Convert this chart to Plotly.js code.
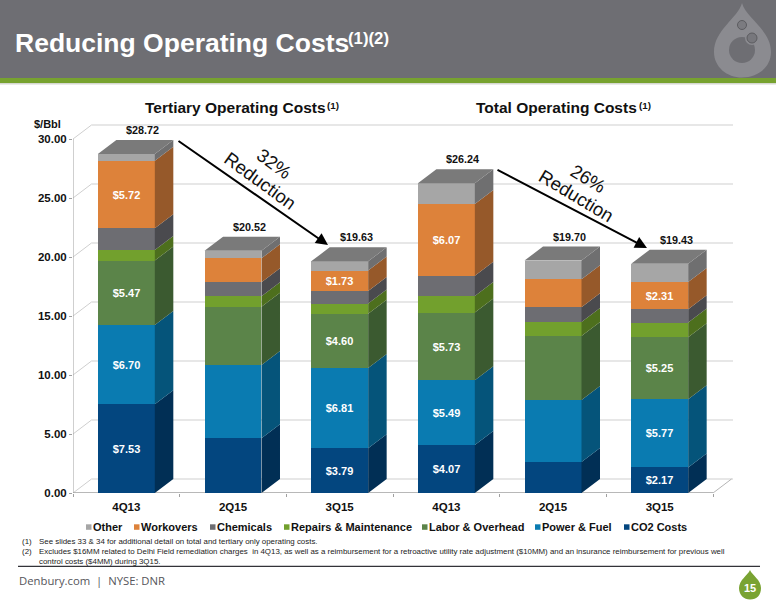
<!DOCTYPE html>
<html>
<head>
<meta charset="utf-8">
<script src="https://cdn.plot.ly/plotly-3.0.1.min.js"></script>
<style>html,body{margin:0;padding:0;background:#fff}#c{width:776px;height:600px}</style>
</head>
<body>
<div id="c"></div>
<script>
// ---------- data ----------
const categories = ["4Q13","2Q15","3Q15","4Q13","2Q15","3Q15"];
const co2Costs   = [7.53,4.63,3.79,4.07,2.63,2.17];
const powerFuel  = [6.70,6.22,6.81,5.49,5.25,5.77];
const laborOver  = [5.47,4.94,4.60,5.73,5.42,5.25];
const repairs    = [0.90,0.88,0.85,1.40,1.19,1.25];
const chemicals  = [1.83,1.19,1.07,1.73,1.25,1.14];
const workovers  = [5.72,2.03,1.73,6.07,2.37,2.31];
const other      = [0.57,0.63,0.78,1.75,1.59,1.54];
const totals     = [28.72,20.52,19.63,26.24,19.70,19.43];
const co2Labels    = ["$7.53",null,"$3.79","$4.07",null,"$2.17"];
const powerLabels  = ["$6.70",null,"$6.81","$5.49",null,"$5.77"];
const laborLabels  = ["$5.47",null,"$4.60","$5.73",null,"$5.25"];
const workLabels   = ["$5.72",null,"$1.73","$6.07",null,"$2.31"];
const yTicks = [0,5,10,15,20,25,30];
const seriesNames = ["CO2 Costs","Power & Fuel","Labor & Overhead","Repairs & Maintenance","Chemicals","Workovers","Other"];

// ---------- layout constants ----------
const FONT = "Liberation Sans, Arial, sans-serif";
const L=73, R=733, T=124, B=493;
const xUnit=106.67, yUnit=11.8;
const xMin=-0.5, xMax=xMin+(R-L)/xUnit, yMax=(B-T)/yUnit;
const dx=18.5/xUnit, dy=14/yUnit, barW=0.534;
const px=x=>(x-L)/(R-L), py=y=>(B-y)/(B-T);
const xs=categories.map((_,i)=>i);

const frontColors=["#03467f","#0a7bb1","#5b8449","#72a02d","#6d6d72","#dd823a","#a6a6a6"];
const sideColors =["#012f55","#05547a","#3b5a30","#4d6f1d","#4a4a4e","#96592a","#6f6f70"];
const topColor="#7a7a7a";
const seriesVals=[co2Costs,powerFuel,laborOver,repairs,chemicals,workovers,other];
const seriesText=[co2Labels,powerLabels,laborLabels,null,null,workLabels,null];

const traces=[];
seriesVals.forEach((v,s)=>{
  const tr={type:"bar",x:xs,y:v,width:barW,name:seriesNames[s],
    marker:{color:frontColors[s],line:{width:0}},
    hovertemplate:"%{y:$.2f}<extra>"+seriesNames[s]+"</extra>"};
  if(seriesText[s]){
    Object.assign(tr,{text:seriesText[s],textposition:"inside",insidetextanchor:"middle",
      textangle:0,constraintext:"none",
      insidetextfont:{family:FONT,size:11,color:"#ffffff",weight:"bold"}});
  }
  traces.push(tr);
});
// side faces of the 3D columns, stacked from the same values
const base=xs.map(()=>0);
seriesVals.forEach((v,s)=>{
  const sx=[],sy=[];
  v.forEach((val,i)=>{
    const xr=i+barW/2, y0=base[i], y1=base[i]+val;
    sx.push(xr,xr+dx,xr+dx,xr,xr,null);
    sy.push(y0,y0+dy,y1+dy,y1,y0,null);
    base[i]=y1;
  });
  traces.push({type:"scatter",mode:"lines",x:sx,y:sy,fill:"toself",fillcolor:sideColors[s],
    line:{width:0,color:sideColors[s]},hoverinfo:"skip",showlegend:false});
});
// top faces
const tx=[],ty=[];
base.forEach((t,i)=>{
  const xl=i-barW/2,xr=i+barW/2;
  tx.push(xl,xl+dx,xr+dx,xr,xl,null);
  ty.push(t,t+dy,t+dy,t,t,null);
});
traces.push({type:"scatter",mode:"lines",x:tx,y:ty,fill:"toself",fillcolor:topColor,
  line:{width:0,color:topColor},hoverinfo:"skip",showlegend:false});

// ---------- shapes ----------
const shapes=[];
const rectPx=(x0,y0,x1,y1,color)=>({type:"rect",xref:"paper",yref:"paper",layer:"below",
  x0:px(x0),x1:px(x1),y0:py(y0),y1:py(y1),fillcolor:color,line:{width:0}});
const circPx=(cx,cy,r,color,lc,layer)=>({type:"circle",xref:"paper",yref:"paper",layer:layer||"above",
  x0:px(cx-r),x1:px(cx+r),y0:py(cy+r),y1:py(cy-r),fillcolor:color,line:{width:lc?1:0,color:lc||color}});
const lineD=(x0,y0,x1,y1,c,w)=>({type:"line",xref:"x",yref:"y",layer:"below",x0,y0,x1,y1,line:{color:c,width:w||1}});
const pathPx=(pts,color)=>({type:"path",xref:"paper",yref:"paper",layer:"above",fillcolor:color,line:{width:0},path:pts});
const P=(x,y)=>px(x)+" "+py(y);

shapes.push(rectPx(0,0,776,78,"#6e6e73"));
shapes.push(rectPx(0,78,776,83,"#77a22f"));
shapes.push(rectPx(0,83,776,84.5,"#d5d8d0"));
shapes.push(rectPx(18,565.8,760,567,"#333338"));
// wall grid, side diagonals, floor, axis lines
yTicks.forEach(t=>{
  shapes.push(lineD(xMin+dx,t+dy,xMax,t+dy,"#cfcfcf",1.2));
  shapes.push(lineD(xMin,t,xMin+dx,t+dy,"#cfcfcf",1));
});
shapes.push(lineD(5.5,0,5.5+dx,dy,"#b5b5b5",1));
shapes.push(lineD(xMin,0,xMin,30,"#a0a0a0",1));
shapes.push(lineD(xMin,0,5.5,0,"#a0a0a0",1.4));

// logo
shapes.push(pathPx(`M${P(742,3)} C${P(738,18)} ${P(714,30)} ${P(714,52)} C${P(714,67)} ${P(727,77.5)} ${P(742,77.5)} C${P(758,77.5)} ${P(771,67)} ${P(771,52)} C${P(771,30)} ${P(746,18)} ${P(742,3)} Z`,"#8b8b90"));
shapes.push(circPx(742,50,13,"#6e6e73"));
shapes.push(circPx(742,25,4.5,"#7b7b80","#5c5c60"));
shapes.push(circPx(752,38,7,"#8b8b90"));
shapes.push(circPx(752,38,5,"#77777c","#5c5c60"));
// page drop
shapes.push(pathPx(`M${P(750,570)} C${P(748,575)} ${P(739,580)} ${P(739,588)} C${P(739,595)} ${P(744,599.5)} ${P(750,599.5)} C${P(757,599.5)} ${P(761,595)} ${P(761,588)} C${P(761,580)} ${P(752,575)} ${P(750,570)} Z`,"#79a332"));

// ---------- legend (reads left to right, top of stack first) ----------
const legendOrder=[6,5,4,3,2,1,0];
const legendX=[86,134,210,284,422,535,624];
const ann=[];
legendOrder.forEach((s,i)=>{
  const x=legendX[i];
  shapes.push({type:"rect",xref:"paper",yref:"paper",layer:"above",x0:px(x),x1:px(x+5.5),y0:py(529.8),y1:py(524.3),fillcolor:frontColors[s],line:{width:0}});
  ann.push({xref:"paper",yref:"paper",x:px(x+5),y:py(527),xanchor:"left",yanchor:"middle",showarrow:false,
    text:"<b>"+seriesNames[s]+"</b>",font:{family:FONT,size:11,color:"#111"}});
});

const textPx=(x,y,text,size,color,anchor,extra)=>Object.assign({xref:"paper",yref:"paper",
  x:px(anchor?x:x-2.5),y:py(y),
  xanchor:anchor||"left",yanchor:"middle",showarrow:false,text,align:"left",borderpad:0,
  font:{family:FONT,size,color:color||"#111"}},extra||{});

// totals above each column
totals.forEach((t,i)=>{
  ann.push({xref:"x",yref:"y",x:i+0.155,y:t+dy,yshift:10,xanchor:"center",yanchor:"middle",showarrow:false,
    text:"<b>$"+t.toFixed(2)+"</b>",font:{family:FONT,size:10.8,color:"#111"}});
});
ann.push(textPx(16,43,"<b>Reducing Operating Costs</b>",26.5,"#ffffff"));
ann.push(textPx(349,38,"<b>(1)(2)</b>",16.8,"#ffffff"));
ann.push(textPx(146,107,"<b>Tertiary Operating Costs</b>",15.5,"#111"));
ann.push(textPx(328,105,"<b>(1)</b>",9.8,"#111"));
ann.push(textPx(477,107,"<b>Total Operating Costs</b>",15.5,"#111"));
ann.push(textPx(640,105,"<b>(1)</b>",9.8,"#111"));
ann.push(textPx(35,124,"<b>$/Bbl</b>",11,"#111"));
// arrows
[[177,140,328,245],[496,169,647,248]].forEach(a=>{
  ann.push({xref:"paper",yref:"paper",axref:"pixel",ayref:"pixel",x:px(a[2]),y:py(a[3]),ax:a[0]-a[2],ay:a[1]-a[3],
    showarrow:true,arrowhead:2,arrowsize:1.2,arrowwidth:2,arrowcolor:"#000",text:""});
});
const rot=(x,y,t,angle)=>textPx(x,y,t,18.5,"#111","center",{textangle:angle});
ann.push(rot(274,163,"32%",36));
ann.push(rot(260,180,"Reduction",36));
ann.push(rot(588,178,"26%",31));
ann.push(rot(576,195,"Reduction",31));
// footnotes
ann.push(textPx(23,541.7,"(1)",7.9,"#222"));
ann.push(textPx(40,541.7,"See slides 33 &amp; 34 for additional detail on total and tertiary only operating costs.",7.9,"#222"));
ann.push(textPx(23,551.7,"(2)",7.9,"#222"));
ann.push(textPx(40,551.7,"Excludes $16MM related to Delhi Field remediation charges  in 4Q13, as well as a reimbursement for a retroactive utility rate adjustment ($10MM) and an insurance reimbursement for previous well",7.9,"#222"));
ann.push(textPx(40,561,"control costs ($4MM) during 3Q15.",7.9,"#222"));
ann.push(textPx(20,580,"Denbury.com  |  NYSE: DNR",11.3,"#55555a","",{font:{family:"Open Sans, sans-serif",size:11.3,color:"#55555a"}}));
ann.push(textPx(750,588,"<b>15</b>",11,"#ffffff","center"));

const boundaries=[-0.5,0.5,1.5,2.5,3.5,4.5,5.5];
const layout={
  width:776,height:600,paper_bgcolor:"#fff",plot_bgcolor:"rgba(0,0,0,0)",
  margin:{l:L,r:776-R,t:T,b:600-B,pad:0,autoexpand:false},
  barmode:"stack",bargap:0,showlegend:false,
  font:{family:FONT,color:"#111"},
  xaxis:{type:"linear",range:[xMin,xMax],showgrid:false,zeroline:false,showline:false,
    tickmode:"array",tickvals:xs,ticktext:categories,ticks:"",ticklen:0,ticklabelstandoff:5,
    tickfont:{family:FONT,size:11.5,color:"#111",weight:"bold"},
    minor:{tickmode:"array",tickvals:boundaries,ticks:"outside",ticklen:3,tickcolor:"#a0a0a0",tickwidth:1,showgrid:false}},
  yaxis:{range:[0,yMax],showgrid:false,zeroline:false,showline:false,
    tickmode:"array",tickvals:yTicks,tickformat:".2f",ticks:"outside",ticklen:3,tickcolor:"#a0a0a0",tickwidth:1,
    tickfont:{family:FONT,size:11.5,color:"#111",weight:"bold"}},
  shapes:shapes,annotations:ann
};
Plotly.newPlot("c",traces,layout,{displayModeBar:false});
</script>
</body>
</html>
